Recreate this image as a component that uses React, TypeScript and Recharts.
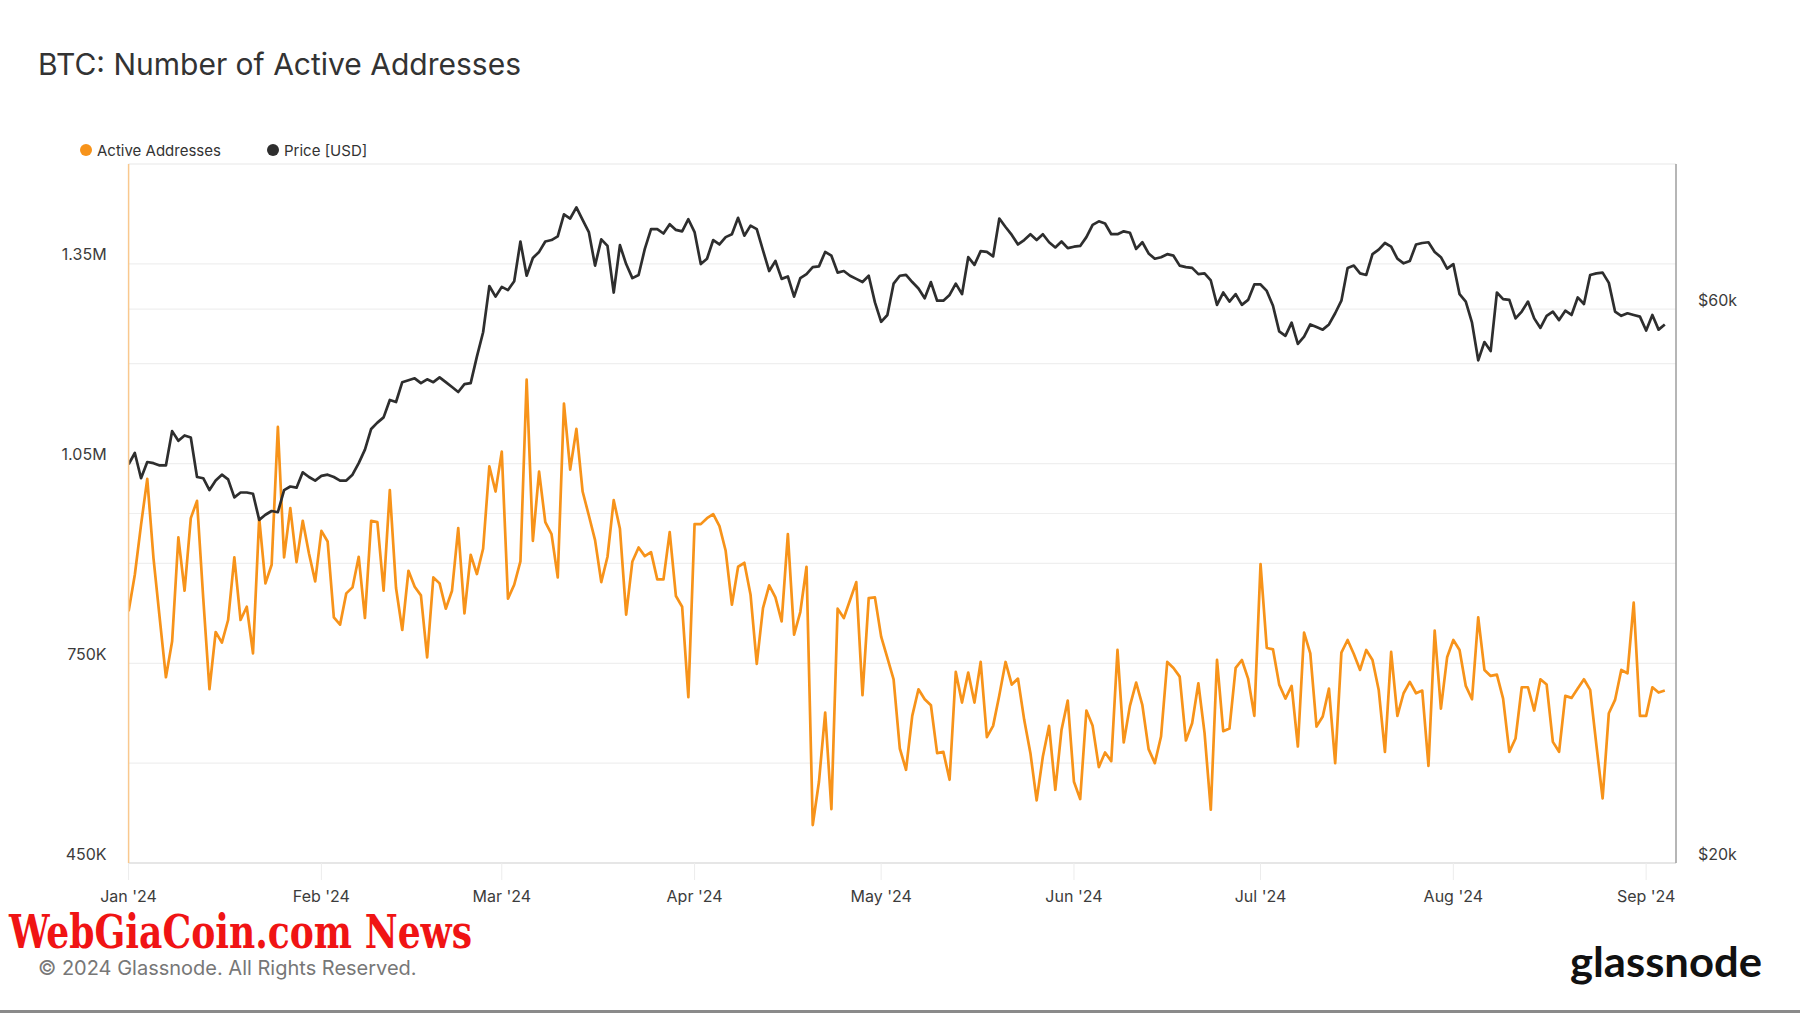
import React from 'react'
import { LineChart, Line, XAxis, YAxis, CartesianGrid } from 'recharts'

// daily values from 2024-01-01 (day 0) to 2024-09-04 (day 247)
// active addresses, in thousands
const activeAddresses = [
  828, 883, 958, 1027, 908, 818, 729, 783, 939, 859,
  968, 994, 848, 711, 797, 781, 815, 909, 815, 835,
  765, 968, 870, 898, 1105, 909, 983, 902, 964, 915,
  873, 949, 933, 819, 808, 855, 864, 910, 818, 964,
  962, 859, 1010, 863, 800, 889, 865, 852, 759, 879,
  870, 832, 859, 953, 825, 913, 884, 922, 1046, 1008,
  1068, 847, 868, 903, 1176, 934, 1038, 962, 944, 879,
  1140, 1041, 1102, 1008, 972, 935, 872, 910, 995, 952,
  823, 903, 924, 911, 917, 876, 876, 947, 851, 835,
  699, 959, 959, 968, 974, 956, 919, 838, 895, 901,
  853, 749, 833, 867, 849, 813, 944, 793, 827, 895,
  507, 572, 676, 531, 832, 818, 845, 872, 702, 848,
  849, 790, 758, 726, 622, 590, 671, 711, 696, 687,
  615, 617, 575, 737, 691, 736, 691, 752, 639, 656,
  702, 752, 718, 727, 665, 615, 544, 610, 656, 560,
  650, 694, 572, 546, 679, 656, 594, 616, 603, 770,
  631, 686, 721, 687, 621, 600, 640, 752, 743, 730,
  634, 660, 720, 645, 530, 755, 648, 652, 743, 755,
  727, 671, 899, 773, 771, 718, 697, 716, 625, 796,
  765, 655, 670, 712, 600, 766, 785, 764, 740, 770,
  755, 710, 617, 767, 671, 705, 722, 705, 709, 596,
  799, 682, 759, 785, 770, 716, 696, 819, 740, 731,
  733, 697, 617, 637, 714, 714, 679, 726, 718, 632,
  617, 701, 698, 712, 726, 710, 627, 547, 675, 695,
  740, 735, 841, 671, 671, 714, 706, 709,
]

// BTC price, in thousands of USD
const priceUsd = [
  44.1, 45.1, 42.9, 44.3, 44.2, 44.0, 44.0, 47.1, 46.2, 46.7,
  46.5, 43.0, 42.9, 41.9, 42.7, 43.2, 42.8, 41.3, 41.7, 41.7,
  41.6, 39.5, 39.9, 40.2, 40.1, 41.9, 42.2, 42.1, 43.4, 43.0,
  42.7, 43.1, 43.2, 43.0, 42.7, 42.7, 43.2, 44.2, 45.4, 47.3,
  47.9, 48.4, 50.1, 49.9, 51.9, 52.1, 52.3, 51.8, 52.2, 51.9,
  52.4, 51.9, 51.4, 50.9, 51.7, 51.8, 54.6, 57.3, 62.8, 61.5,
  62.7, 62.3, 63.4, 68.6, 64.1, 66.4, 67.2, 68.6, 68.8, 69.3,
  72.4, 71.8, 73.4, 71.6, 69.9, 65.4, 68.9, 68.0, 62.0, 68.1,
  65.6, 63.8, 64.2, 67.6, 70.3, 70.3, 69.7, 71.0, 70.2, 70.0,
  71.7, 69.9, 65.6, 66.3, 68.8, 68.2, 69.2, 69.6, 71.9, 69.4,
  70.8, 70.3, 67.4, 64.7, 66.0, 63.7, 64.0, 61.5, 63.8, 64.3,
  65.2, 65.3, 67.2, 66.7, 64.5, 64.7, 64.1, 63.7, 63.3, 64.1,
  60.8, 58.5, 59.3, 63.1, 64.1, 64.2, 63.3, 62.5, 61.3, 63.3,
  61.0, 61.0, 61.7, 63.1, 61.8, 66.5, 65.5, 67.3, 67.2, 66.6,
  71.8, 70.6, 69.5, 68.2, 68.8, 69.6, 68.8, 69.6, 68.5, 67.8,
  68.6, 67.7, 67.9, 68.0, 69.2, 70.9, 71.4, 71.1, 69.6, 69.6,
  70.0, 69.8, 67.6, 68.5, 67.0, 66.3, 66.5, 66.9, 66.7, 65.4,
  65.2, 65.1, 64.3, 64.4, 63.5, 60.5, 62.0, 60.9, 61.8, 60.5,
  61.1, 63.0, 63.0, 62.2, 60.4, 57.4, 56.9, 58.4, 56.0, 56.8,
  58.2, 57.9, 57.6, 58.2, 59.5, 61.0, 65.1, 65.4, 64.4, 64.2,
  66.9, 67.5, 68.4, 67.9, 66.3, 65.7, 66.0, 68.2, 68.4, 68.5,
  67.2, 66.5, 65.0, 65.6, 61.8, 60.9, 58.4, 54.2, 56.2, 55.2,
  62.0, 61.2, 61.1, 58.9, 59.7, 60.9, 58.9, 57.8, 59.2, 59.7,
  58.7, 59.8, 59.3, 61.4, 60.6, 64.2, 64.4, 64.5, 63.2, 59.7,
  59.2, 59.5, 59.3, 59.1, 57.5, 59.3, 57.6, 58.2,
]

// month starts, as day index
const monthTicks = [0, 31, 60, 91, 121, 152, 182, 213, 244]
const monthLabels = ["Jan '24", "Feb '24", "Mar '24", "Apr '24", "May '24", "Jun '24", "Jul '24", "Aug '24", "Sep '24"]

const leftTicks = [450000, 600000, 750000, 900000, 1050000, 1200000, 1350000, 1500000]
const leftLabels: Record<number, string> = { 450000: '450K', 750000: '750K', 1050000: '1.05M', 1350000: '1.35M' }
const rightTicks = [20000, 40000, 60000, 80000]
const rightLabels: Record<number, string> = { 20000: '$20k', 60000: '$60k' }

const data = activeAddresses.map((a, i) => ({ day: i, active: a * 1000, price: priceUsd[i] * 1000 }))

const FONT = 'Inter, "Noto Sans", sans-serif'
const ORANGE = '#f7931a'
const DARK = '#2e2e2e'

function LeftTick({ x, y, payload }: any) {
  const label = leftLabels[payload.value]
  if (!label) return <g />
  return (
    <text x={x} y={y - 9.5} textAnchor="end" dominantBaseline="central" fill="#3c3c3c" fontSize={16} fontFamily={FONT}>
      {label}
    </text>
  )
}

function RightTick({ x, y, payload }: any) {
  const label = rightLabels[payload.value]
  if (!label) return <g />
  return (
    <text x={x} y={y - 9} textAnchor="start" dominantBaseline="central" fill="#3c3c3c" fontSize={16} fontFamily={FONT}>
      {label}
    </text>
  )
}

function MonthTick({ x, y, payload }: any) {
  const idx = monthTicks.indexOf(payload.value)
  return (
    <text x={x} y={y + 16} textAnchor="middle" dominantBaseline="central" fill="#3c3c3c" fontSize={16} fontFamily={FONT}>
      {monthLabels[idx]}
    </text>
  )
}

export default function App() {
  return (
    <div style={{ position: 'absolute', left: 0, top: 0, width: 1800, height: 1013, background: '#fff', overflow: 'hidden', fontFamily: FONT }}>
      <div style={{ position: 'absolute', left: 38, top: 49, fontSize: 30, lineHeight: 1, color: '#333', fontWeight: 400, whiteSpace: 'nowrap' }}>
        BTC: Number of Active Addresses
      </div>

      {/* legend */}
      <div style={{ position: 'absolute', left: 80, top: 144, width: 12, height: 12, borderRadius: 6, background: ORANGE }} />
      <div style={{ position: 'absolute', left: 97, top: 142.5, fontSize: 15, lineHeight: 1, color: '#333', whiteSpace: 'nowrap' }}>Active Addresses</div>
      <div style={{ position: 'absolute', left: 267, top: 144, width: 12, height: 12, borderRadius: 6, background: DARK }} />
      <div style={{ position: 'absolute', left: 284, top: 142.5, fontSize: 15, lineHeight: 1, color: '#333', whiteSpace: 'nowrap' }}>Price [USD]</div>

      <div style={{ position: 'absolute', left: 0, top: 0 }}>
        <LineChart width={1800} height={1013} data={data} margin={{ top: 164, right: 24, bottom: 90, left: 28.6 }}>
          <CartesianGrid yAxisId="left" vertical={false} stroke="#efefef" strokeWidth={1.2} />
          <CartesianGrid yAxisId="right" vertical={false} stroke="#efefef" strokeWidth={1.2} />
          <XAxis
            dataKey="day"
            type="number"
            domain={[0, 248.8]}
            ticks={monthTicks}
            allowDataOverflow
            height={60}
            tickSize={17}
            tickMargin={0}
            tickLine={{ stroke: '#ececec' }}
            axisLine={{ stroke: '#e2e2e2', strokeWidth: 1.5 }}
            tick={<MonthTick />}
          />
          <YAxis
            yAxisId="left"
            domain={[450000, 1500000]}
            ticks={leftTicks}
            allowDataOverflow
            width={100}
            tickSize={0}
            tickMargin={22}
            tickLine={false}
            axisLine={{ stroke: '#f9c88e', strokeWidth: 1.5 }}
            tick={<LeftTick />}
          />
          <YAxis
            yAxisId="right"
            orientation="right"
            scale="log"
            domain={[20000, 80000]}
            ticks={rightTicks}
            allowDataOverflow
            width={100}
            tickSize={0}
            tickMargin={22}
            tickLine={false}
            axisLine={{ stroke: '#9e9e9e', strokeWidth: 1.5 }}
            tick={<RightTick />}
          />
          <Line yAxisId="left" type="linear" dataKey="active" stroke={ORANGE} strokeWidth={2.7} strokeLinejoin="round" dot={false} isAnimationActive={false} />
          <Line yAxisId="right" type="linear" dataKey="price" stroke={DARK} strokeWidth={2.7} strokeLinejoin="round" dot={false} isAnimationActive={false} />
        </LineChart>
      </div>

      {/* footer */}
      <svg width={1800} height={1013} style={{ position: 'absolute', left: 0, top: 0, pointerEvents: 'none' }}>
        <text x={9} y={948} fontFamily='"DejaVu Serif Condensed", "DejaVu Serif", serif' fontWeight="bold" fontSize={47} fill="#f01414" textLength={463} lengthAdjust="spacingAndGlyphs">
          WebGiaCoin.com News
        </text>
        <text x={1570} y={977} fontFamily='Lato, "Noto Sans", sans-serif' fontWeight={700} fontSize={42} fill="#111" textLength={192} lengthAdjust="spacingAndGlyphs">
          glassnode
        </text>
      </svg>
      <div style={{ position: 'absolute', left: 38, top: 958, fontSize: 20, lineHeight: 1, color: '#777', whiteSpace: 'nowrap' }}>
        © 2024 Glassnode. All Rights Reserved.
      </div>
      <div style={{ position: 'absolute', left: 0, top: 1010, width: 1800, height: 3, background: '#8a8a8a' }} />
    </div>
  )
}
